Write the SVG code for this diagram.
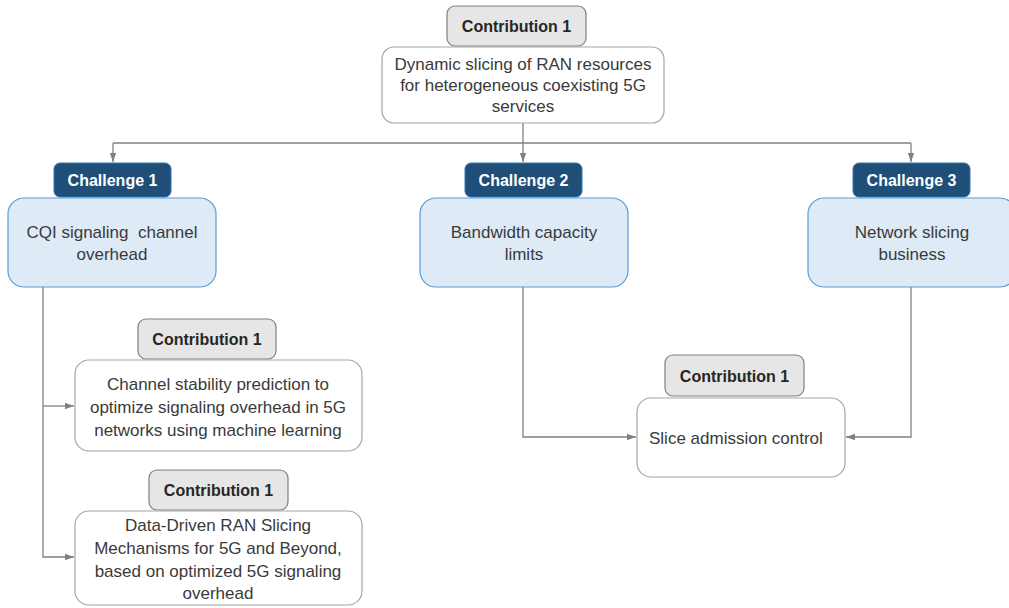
<svg xmlns="http://www.w3.org/2000/svg" width="1009" height="608" viewBox="0 0 1009 608">
<style>
text{font-family:"Liberation Sans",Arial,sans-serif;}
.tag{fill:#e7e6e6;stroke:#7f7f7f;stroke-width:1.2;}
.tagt{font-size:16px;font-weight:bold;fill:#262626;text-anchor:middle;}
.box{fill:#ffffff;stroke:#a6a6a6;stroke-width:1.2;}
.bt{font-size:17px;fill:#3a3a3a;text-anchor:middle;}
.ch{fill:#1f4e79;stroke:#2e75b6;stroke-width:1;}
.cht{font-size:16px;font-weight:bold;fill:#ffffff;text-anchor:middle;}
.cbox{fill:#deeaf6;stroke:#5b9bd5;stroke-width:1.2;}
.conn{fill:none;stroke:#808080;stroke-width:1.3;}
</style>
<defs>
<marker id="arr" viewBox="0 0 10 10" refX="10" refY="5" markerWidth="7" markerHeight="7" orient="auto">
<path d="M0,1.5 L10,5 L0,8.5 z" fill="#808080"/>
</marker>
</defs>
<rect width="1009" height="608" fill="#ffffff"/>
<g id="connectors">
<path class="conn" d="M523,123 V143"/>
<path class="conn" d="M113,143 H911"/>
<path class="conn" d="M113,143 V162" marker-end="url(#arr)"/>
<path class="conn" d="M523,143 V162" marker-end="url(#arr)"/>
<path class="conn" d="M911,143 V162" marker-end="url(#arr)"/>
<path class="conn" d="M43,287 V557 H74" marker-end="url(#arr)"/>
<path class="conn" d="M43,406 H74" marker-end="url(#arr)"/>
<path class="conn" d="M523,287 V437 H636" marker-end="url(#arr)"/>
<path class="conn" d="M911,287 V437 H846" marker-end="url(#arr)"/>
</g>
<g id="contrib-top">
<rect class="tag" x="447" y="6" width="139" height="40" rx="8"/>
<text class="tagt" x="516.5" y="32">Contribution 1</text>
<rect class="box" x="382" y="47" width="282" height="76" rx="12"/>
<text class="bt" x="523" y="70">Dynamic slicing of RAN resources</text>
<text class="bt" x="523" y="91">for heterogeneous coexisting 5G</text>
<text class="bt" x="523" y="112">services</text>
</g>
<g id="challenge1">
<rect class="ch" x="54" y="163" width="117" height="34" rx="6"/>
<text class="cht" x="112.5" y="186">Challenge 1</text>
<rect class="cbox" x="8" y="198" width="208" height="89" rx="16"/>
<text class="bt" x="112" y="238" xml:space="preserve">CQI signaling  channel</text>
<text class="bt" x="112" y="260">overhead</text>
</g>
<g id="challenge2">
<rect class="ch" x="465" y="163" width="117" height="34" rx="6"/>
<text class="cht" x="523.5" y="186">Challenge 2</text>
<rect class="cbox" x="420" y="198" width="208" height="89" rx="16"/>
<text class="bt" x="524" y="238">Bandwidth capacity</text>
<text class="bt" x="524" y="260">limits</text>
</g>
<g id="challenge3">
<rect class="ch" x="853" y="163" width="117" height="34" rx="6"/>
<text class="cht" x="911.5" y="186">Challenge 3</text>
<rect class="cbox" x="808" y="198" width="208" height="89" rx="16"/>
<text class="bt" x="912" y="238">Network slicing</text>
<text class="bt" x="912" y="260">business</text>
</g>
<g id="contrib-a">
<rect class="tag" x="138" y="319" width="138" height="40" rx="8"/>
<text class="tagt" x="207" y="345">Contribution 1</text>
<rect class="box" x="75" y="360" width="287" height="91" rx="14"/>
<text class="bt" x="218" y="390">Channel stability prediction to</text>
<text class="bt" x="218" y="413">optimize signaling overhead in 5G</text>
<text class="bt" x="218" y="436">networks using machine learning</text>
</g>
<g id="contrib-b">
<rect class="tag" x="149" y="470" width="139" height="40" rx="8"/>
<text class="tagt" x="218.5" y="496">Contribution 1</text>
<rect class="box" x="75" y="511" width="287" height="94" rx="14"/>
<text class="bt" x="218" y="531">Data-Driven RAN Slicing</text>
<text class="bt" x="218" y="554">Mechanisms for 5G and Beyond,</text>
<text class="bt" x="218" y="577">based on optimized 5G signaling</text>
<text class="bt" x="218" y="599">overhead</text>
</g>
<g id="contrib-c">
<rect class="tag" x="665" y="355" width="139" height="41" rx="8"/>
<text class="tagt" x="734.5" y="382">Contribution 1</text>
<rect class="box" x="637" y="398" width="208" height="79" rx="14"/>
<text class="bt" x="649" y="444" style="text-anchor:start">Slice admission control</text>
</g>
</svg>
